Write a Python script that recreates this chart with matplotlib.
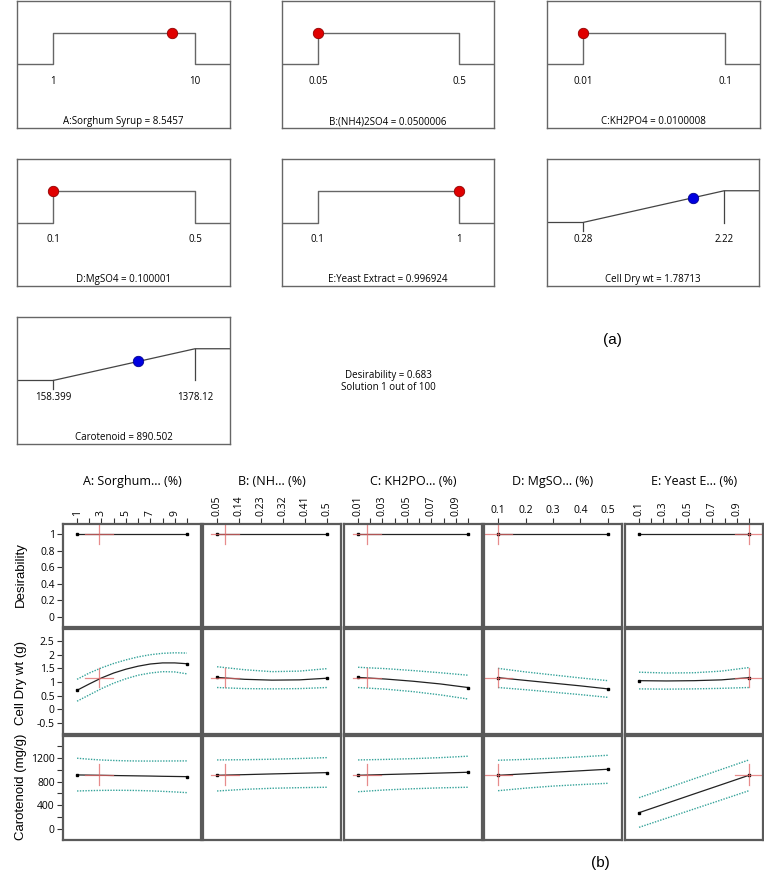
import numpy as np
import matplotlib
matplotlib.use("Agg")
from matplotlib import pyplot as plt

plt.rcParams["font.family"] = ["Open Sans", "DejaVu Sans"]

W, H = 764, 872

# ---- part (a): ramps ----
factor_names = ["A:Sorghum Syrup", "B:(NH4)2SO4", "C:KH2PO4", "D:MgSO4", "E:Yeast Extract"]
factor_lo = [1, 0.05, 0.01, 0.1, 0.1]
factor_hi = [10, 0.5, 0.1, 0.5, 1]
factor_lo_txt = ["1", "0.05", "0.01", "0.1", "0.1"]
factor_hi_txt = ["10", "0.5", "0.1", "0.5", "1"]
factor_opt = [8.5457, 0.0500006, 0.0100008, 0.100001, 0.996924]
factor_opt_txt = ["8.5457", "0.0500006", "0.0100008", "0.100001", "0.996924"]

resp_names = ["Cell Dry wt", "Carotenoid"]
resp_lo = [0.28, 158.399]
resp_hi = [2.22, 1378.12]
resp_lo_txt = ["0.28", "158.399"]
resp_hi_txt = ["2.22", "1378.12"]
resp_opt = [1.78713, 890.502]
resp_opt_txt = ["1.78713", "890.502"]

desirability = 0.683

# ---- part (b): one factor plots ----
col_titles = ["A: Sorghum... (%)", "B: (NH... (%)", "C: KH2PO... (%)", "D: MgSO... (%)", "E: Yeast E... (%)"]
row_labels = ["Desirability", "Cell Dry wt (g)", "Carotenoid (mg/g)"]

A_x = [1, 2, 3, 4, 5, 6, 7, 8, 9, 10]
A_cdw = [0.70, 0.93, 1.15, 1.33, 1.47, 1.58, 1.66, 1.70, 1.70, 1.67]
A_cdw_hi = [1.10, 1.33, 1.52, 1.68, 1.81, 1.92, 2.00, 2.05, 2.07, 2.06]
A_cdw_lo = [0.30, 0.53, 0.76, 0.96, 1.12, 1.25, 1.33, 1.38, 1.37, 1.30]
A_car = [913, 910, 907, 903, 900, 897, 894, 890, 887, 884]
A_car_hi = [1195, 1178, 1165, 1157, 1151, 1148, 1147, 1148, 1149, 1150]
A_car_lo = [642, 648, 652, 654, 653, 650, 644, 636, 626, 614]

B_x = [0.05, 0.1625, 0.275, 0.3875, 0.5]
B_cdw = [1.17, 1.10, 1.07, 1.08, 1.14]
B_cdw_hi = [1.56, 1.45, 1.38, 1.40, 1.49]
B_cdw_lo = [0.80, 0.76, 0.75, 0.76, 0.80]
B_car = [907, 918, 930, 941, 952]
B_car_hi = [1166, 1170, 1178, 1190, 1205]
B_car_lo = [642, 670, 688, 698, 705]

C_x = [0.01, 0.0325, 0.055, 0.0775, 0.1]
C_cdw = [1.17, 1.11, 1.03, 0.93, 0.80]
C_cdw_hi = [1.54, 1.49, 1.42, 1.34, 1.25]
C_cdw_lo = [0.80, 0.74, 0.65, 0.53, 0.38]
C_car = [907, 920, 932, 945, 958]
C_car_hi = [1166, 1175, 1188, 1205, 1229]
C_car_lo = [630, 660, 680, 695, 705]

D_x = [0.1, 0.2, 0.3, 0.4, 0.5]
D_cdw = [1.16, 1.06, 0.96, 0.86, 0.75]
D_cdw_hi = [1.50, 1.37, 1.26, 1.15, 1.05]
D_cdw_lo = [0.80, 0.72, 0.63, 0.54, 0.44]
D_car = [907, 932, 958, 983, 1009]
D_car_hi = [1161, 1175, 1195, 1218, 1245]
D_car_lo = [647, 690, 725, 750, 772]

E_x = [0.1, 0.325, 0.55, 0.775, 1.0]
E_cdw = [1.05, 1.04, 1.05, 1.08, 1.16]
E_cdw_hi = [1.36, 1.33, 1.34, 1.40, 1.53]
E_cdw_lo = [0.75, 0.74, 0.75, 0.77, 0.80]
E_car = [276, 434, 592, 749, 907]
E_car_hi = [529, 688, 848, 1007, 1166]
E_car_lo = [29, 183, 338, 492, 647]

cross_x = [2.8, 0.083, 0.0174, 0.1, 0.997]
cross_y = [1.0, 1.16, 907]
cross_ylo = [0.88, 0.81, 735]
cross_yhi = [1.12, 1.52, 1095]

major_ticks = [[1, 3, 5, 7, 9], [0.05, 0.14, 0.23, 0.32, 0.41, 0.5],
               [0.01, 0.03, 0.05, 0.07, 0.09], [0.1, 0.2, 0.3, 0.4, 0.5],
               [0.1, 0.3, 0.5, 0.7, 0.9]]
minor_ticks = [[2, 4, 6, 8, 10], [], [0.02, 0.04, 0.06, 0.08, 0.1], [], [0.2, 0.4, 0.6, 0.8, 1.0]]
tick_rot = [90, 90, 90, 0, 90]


def px_axes(fig, x0, y0, x1, y1):
    return fig.add_axes([x0 / W, 1 - y1 / H, (x1 - x0) / W, (y1 - y0) / H])


def ramp_u(v, lo, hi):
    return 0.169 + 0.667 * (v - lo) / (hi - lo)


def ramp_box(ax):
    ax.set_xlim(0, 1)
    ax.set_ylim(-2, 2)
    ax.set_xticks([])
    ax.set_yticks([])
    for s in ax.spines.values():
        s.set_color("#666666")
        s.set_linewidth(1)


def factor_box(ax, name, lo, hi, lo_t, hi_t, opt, opt_t):
    ramp_box(ax)
    ul, uh = ramp_u(lo, lo, hi), ramp_u(hi, lo, hi)
    ax.plot([0, ul, ul, uh, uh, 1], [0, 0, 1, 1, 0, 0], color="#666666", lw=1)
    ax.plot(ramp_u(opt, lo, hi), 1, "o", ms=7.5, mfc="#e00000", mec="#900000", mew=0.6)
    ax.text(ul, -0.55, lo_t, ha="center", va="center", fontsize=7)
    ax.text(uh, -0.55, hi_t, ha="center", va="center", fontsize=7)
    ax.text(0.5, -1.8, f"{name} = {opt_t}", ha="center", va="center", fontsize=7)


def resp_box(ax, name, lo, hi, lo_t, hi_t, opt, opt_t):
    ramp_box(ax)
    ul, uh = ramp_u(lo, lo, hi), ramp_u(hi, lo, hi)
    ax.plot([0, ul, uh, 1], [0, 0, 1, 1], color="#444444", lw=0.9)
    ax.plot([uh, uh], [1, 0], color="#444444", lw=0.9)
    ax.plot([ul, ul], [0, -0.28], color="#444444", lw=0.9)
    ax.plot(ramp_u(opt, lo, hi), (opt - lo) / (hi - lo), "o", ms=7.5,
            mfc="#0000e0", mec="#000090", mew=0.6)
    ax.text(ul, -0.55, lo_t, ha="center", va="center", fontsize=7)
    ax.text(uh, -0.55, hi_t, ha="center", va="center", fontsize=7)
    ax.text(0.5, -1.8, f"{name} = {opt_t}", ha="center", va="center", fontsize=7)


def main():
    fig = plt.figure(figsize=(W / 100, H / 100), dpi=100)

    # part (a)
    boxes = [(17, 1, 230, 128), (282, 1, 494, 128), (547, 1, 760, 128),
             (17, 159, 230, 286), (282, 159, 494, 286)]
    for i, b in enumerate(boxes):
        ax = px_axes(fig, *b)
        factor_box(ax, factor_names[i], factor_lo[i], factor_hi[i], factor_lo_txt[i],
                   factor_hi_txt[i], factor_opt[i], factor_opt_txt[i])
    rboxes = [(547, 159, 759, 286), (17, 317, 230, 444)]
    for i, b in enumerate(rboxes):
        ax = px_axes(fig, *b)
        resp_box(ax, resp_names[i], resp_lo[i], resp_hi[i], resp_lo_txt[i],
                 resp_hi_txt[i], resp_opt[i], resp_opt_txt[i])

    fig.text(388 / W, 1 - 375 / H, f"Desirability = {desirability}", ha="center", va="center", fontsize=7)
    fig.text(388 / W, 1 - 387 / H, "Solution 1 out of 100", ha="center", va="center", fontsize=7)
    fig.text(612 / W, 1 - 340 / H, "(a)", ha="center", va="center", fontsize=11,
             family=["Liberation Sans", "DejaVu Sans"])

    # part (b)
    xs = [A_x, B_x, C_x, D_x, E_x]
    cdw = [(A_cdw, A_cdw_hi, A_cdw_lo), (B_cdw, B_cdw_hi, B_cdw_lo), (C_cdw, C_cdw_hi, C_cdw_lo),
           (D_cdw, D_cdw_hi, D_cdw_lo), (E_cdw, E_cdw_hi, E_cdw_lo)]
    car = [(A_car, A_car_hi, A_car_lo), (B_car, B_car_hi, B_car_lo), (C_car, C_car_hi, C_car_lo),
           (D_car, D_car_hi, D_car_lo), (E_car, E_car_hi, E_car_lo)]
    col_left = [63, 203, 344, 484, 625]
    col_w = 138
    row_top = [524, 629, 736]
    row_bot = [627, 734, 840]
    ylims = [(-0.12, 1.12), (-0.9, 2.94), (-185, 1570)]
    teal = "#35a39a"
    red = "#e06666"

    for j in range(5):
        lo, hi = factor_lo[j], factor_hi[j]
        pad = 0.128 * (hi - lo)
        hw = 0.125 * (hi - lo)
        for r in range(3):
            ax = px_axes(fig, col_left[j], row_top[r], col_left[j] + col_w, row_bot[r])
            ax.set_xlim(lo - pad, hi + pad)
            ax.set_ylim(*ylims[r])
            for s in ax.spines.values():
                s.set_color("#5a5a5a")
                s.set_linewidth(1.6)
            if r == 0:
                ax.plot([lo, hi], [1, 1], color="#222222", lw=0.9)
                ax.plot([lo, hi], [1, 1], "s", color="black", ms=2)
            else:
                y, yh, yl = cdw[j] if r == 1 else car[j]
                ax.plot(xs[j], yh, color=teal, lw=1, ls=(0, (1, 1)))
                ax.plot(xs[j], yl, color=teal, lw=1, ls=(0, (1, 1)))
                ax.plot(xs[j], y, color="#222222", lw=0.9)
                ax.plot([xs[j][0], xs[j][-1]], [y[0], y[-1]], "s", color="black", ms=2)
            ax.plot([cross_x[j] - hw, cross_x[j] + hw], [cross_y[r], cross_y[r]],
                    color=red, lw=0.9, alpha=0.75)
            ax.plot([cross_x[j], cross_x[j]], [cross_ylo[r], cross_yhi[r]],
                    color=red, lw=0.9, alpha=0.75)

            if r == 0:
                ax.xaxis.tick_top()
                ax.set_xticks(major_ticks[j])
                ax.set_xticks(minor_ticks[j], minor=True)
                ax.set_xticklabels([f"{t:g}" for t in major_ticks[j]], rotation=tick_rot[j], fontsize=7.5)
                ax.tick_params(axis="x", which="both", direction="out", length=4, width=0.8,
                               color="#333333", pad=2)
                ax.set_title(col_titles[j], fontsize=9, pad=28)
            else:
                ax.set_xticks([])
            if j == 0:
                if r == 0:
                    ax.set_yticks([0, 0.2, 0.4, 0.6, 0.8, 1])
                    ax.set_yticklabels(["0", "0.2", "0.4", "0.6", "0.8", "1"])
                elif r == 1:
                    ax.set_yticks([-0.5, 0, 0.5, 1, 1.5, 2, 2.5])
                    ax.set_yticklabels(["-0.5", "0", "0.5", "1", "1.5", "2", "2.5"])
                else:
                    ax.set_yticks([0, 400, 800, 1200])
                    ax.set_yticks([200, 600, 1000, 1400], minor=True)
                ax.tick_params(axis="y", which="both", direction="out", length=4, width=0.8,
                               color="#333333", labelsize=7.5, pad=2)
            else:
                ax.set_yticks([])

    label_y = [575, 683, 787]
    for r in range(3):
        fig.text(21 / W, 1 - label_y[r] / H, row_labels[r], rotation=90, ha="center", va="center",
                 fontsize=9.5, family=["Liberation Sans", "DejaVu Sans"])

    fig.text(600 / W, 1 - 863 / H, "(b)", ha="center", va="center", fontsize=11,
             family=["Liberation Sans", "DejaVu Sans"])

    fig.savefig("out.png", dpi=100)


if __name__ == "__main__":
    main()
